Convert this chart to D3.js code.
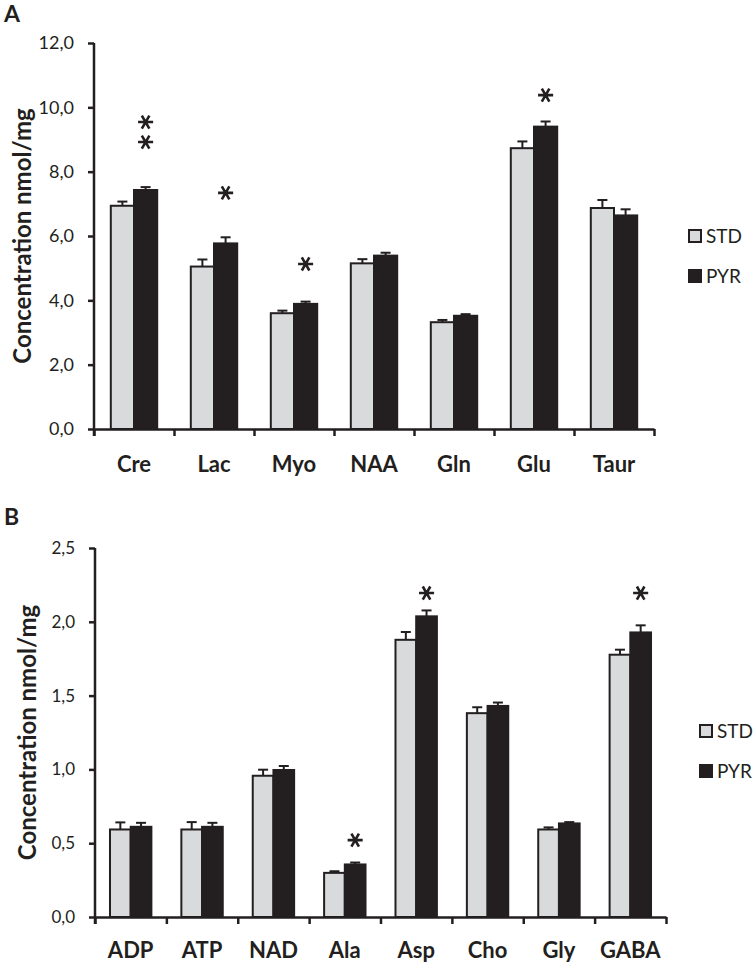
<!DOCTYPE html>
<html>
<head>
<meta charset="utf-8">
<script src="https://cdn.jsdelivr.net/npm/d3@7"></script>
<style>
  body { margin: 0; background: #fff; }
  text { font-family: Lato, "Open Sans", sans-serif; fill: #231f20; }
</style>
</head>
<body>
<script>
// Panel A – concentrations (nmol/mg)
const catsA = ["Cre", "Lac", "Myo", "NAA", "Gln", "Glu", "Taur"];
const stdA = [6.94, 5.05, 3.60, 5.15, 3.32, 8.73, 6.87];
const stdErrA = [0.13, 0.22, 0.08, 0.13, 0.07, 0.21, 0.25];
const pyrA = [7.43, 5.77, 3.89, 5.39, 3.52, 9.40, 6.64];
const pyrErrA = [0.09, 0.19, 0.07, 0.09, 0.05, 0.16, 0.19];
const starsA = [2, 1, 1, 0, 0, 1, 0];
const starLevelA = [8.92, 7.34, 5.13, null, null, 10.38, null];
const ticksA = [0, 2, 4, 6, 8, 10, 12];

// Panel B
const catsB = ["ADP", "ATP", "NAD", "Ala", "Asp", "Cho", "Gly", "GABA"];
const stdB = [0.593, 0.593, 0.957, 0.299, 1.878, 1.381, 0.593, 1.777];
const stdErrB = [0.048, 0.050, 0.041, 0.011, 0.053, 0.040, 0.014, 0.034];
const pyrB = [0.611, 0.611, 0.996, 0.356, 2.037, 1.430, 0.634, 1.928];
const pyrErrB = [0.027, 0.027, 0.027, 0.013, 0.040, 0.023, 0.009, 0.048];
const starsB = [0, 0, 0, 1, 1, 0, 0, 1];
const starLevelB = [null, null, null, 0.521, 2.195, null, null, 2.195];
const ticksB = [0, 0.5, 1, 1.5, 2, 2.5];

const groups = ["STD", "PYR"];
const ink = "#231f20";
const fills = { STD: "#d9dadc", PYR: "#231f20" };

const svg = d3.select("body").append("svg")
    .attr("width", 753)
    .attr("height", 967);

const fmt = d => d3.format(".1f")(d).replace(".", ",");
const star = d3.symbol(d3.symbolAsterisk, 160);

function drawPanel(p) {
    var g = svg.append("g");

    var x = d3.scaleBand().domain(p.cats).range([p.left, p.right]);
    var bw = x.bandwidth();
    var sub = d3.scaleBand().domain(groups).range([bw * 0.21, bw * 0.79]);
    var y = d3.scaleLinear().domain([0, p.ticks[p.ticks.length - 1]]).range([p.bottom, p.top]);
    var xi = d3.scaleLinear().domain([0, p.cats.length]).range([p.left, p.right]);

    // panel letter
    g.append("text")
        .attr("x", 4).attr("y", p.letterY)
        .attr("font-size", 23).attr("font-weight", "bold")
        .text(p.letter);

    // y axis title
    g.append("text")
        .attr("transform", "translate(" + p.titleX + "," + ((p.top + p.bottom) / 2) + ") rotate(-90)")
        .attr("text-anchor", "middle")
        .attr("font-size", 24).attr("font-weight", "bold")
        .text("Concentration nmol/mg");

    var rows = p.cats.map((c, i) => ({
        cat: c,
        vals: [
            { key: "STD", v: p.std[i], e: p.stdErr[i] },
            { key: "PYR", v: p.pyr[i], e: p.pyrErr[i] }
        ]
    }));

    var cat = g.selectAll(".cat")
        .data(rows)
        .enter().append("g")
        .attr("class", "cat")
        .attr("transform", d => "translate(" + x(d.cat) + ",0)");

    // error bars (drawn first so the bar outline covers the base)
    var eb = cat.selectAll(".err")
        .data(d => d.vals)
        .enter().append("g").attr("class", "err")
        .attr("stroke", ink).attr("stroke-width", 2);
    eb.append("line")
        .attr("x1", d => sub(d.key) + sub.bandwidth() / 2)
        .attr("x2", d => sub(d.key) + sub.bandwidth() / 2)
        .attr("y1", d => y(d.v)).attr("y2", d => y(d.v + d.e));
    eb.append("line")
        .attr("x1", d => sub(d.key) + sub.bandwidth() / 2 - 5)
        .attr("x2", d => sub(d.key) + sub.bandwidth() / 2 + 5)
        .attr("y1", d => y(d.v + d.e)).attr("y2", d => y(d.v + d.e));

    cat.selectAll(".bar")
        .data(d => d.vals)
        .enter().append("rect")
        .attr("class", "bar")
        .attr("x", d => sub(d.key))
        .attr("width", sub.bandwidth())
        .attr("y", d => y(d.v))
        .attr("height", d => y(0) - y(d.v))
        .attr("fill", d => fills[d.key])
        .attr("stroke", ink).attr("stroke-width", 2);

    // significance stars above the PYR bar
    p.cats.forEach((c, i) => {
        var cx = x(c) + sub("PYR") + sub.bandwidth() / 2;
        for (var k = 0; k < p.stars[i]; k++) {
            g.append("path")
                .attr("d", star())
                .attr("transform", "translate(" + cx + "," + (y(p.starLevel[i]) - k * 20) + ") rotate(90)")
                .attr("fill", "none")
                .attr("stroke", ink)
                .attr("stroke-width", 2.6);
        }
    });

    // y axis
    var yAxis = g.append("g")
        .attr("transform", "translate(" + p.left + ",0)")
        .call(d3.axisLeft(y).tickValues(p.ticks).tickSize(6).tickSizeOuter(0).tickPadding(14).tickFormat(fmt));
    yAxis.selectAll("text").attr("font-size", p.tickFont).attr("font-family", null).attr("fill", ink);

    // x axis: ticks at band boundaries
    var xAxis = g.append("g")
        .attr("transform", "translate(0," + p.bottom + ")")
        .call(d3.axisBottom(xi).tickValues(d3.range(p.cats.length + 1)).tickSize(7).tickSizeOuter(0).tickFormat(""));

    [yAxis, xAxis].forEach(a => {
        a.select(".domain").attr("stroke", ink).attr("stroke-width", 2.5);
        a.selectAll(".tick line").attr("stroke", ink).attr("stroke-width", 2.5);
    });
    yAxis.select(".domain").attr("d", "M0," + (p.top) + "V" + (p.bottom + 7));

    // category labels
    g.selectAll(".lab")
        .data(p.cats)
        .enter().append("text")
        .attr("x", d => x(d) + bw / 2)
        .attr("y", p.bottom + p.labelGap)
        .attr("text-anchor", "middle")
        .attr("font-size", 22).attr("font-weight", "bold")
        .text(d => d);

    // legend
    var leg = g.selectAll(".leg")
        .data(groups)
        .enter().append("g")
        .attr("transform", (d, i) => "translate(" + p.legX + "," + (p.legY + i * 40) + ")");
    leg.append("rect")
        .attr("width", 12).attr("height", 12)
        .attr("fill", d => fills[d])
        .attr("stroke", ink).attr("stroke-width", 2);
    leg.append("text")
        .attr("x", 17).attr("y", 13)
        .attr("font-size", 19)
        .text(d => d);
}

drawPanel({
    letter: "A", letterY: 22, titleX: 31,
    cats: catsA, std: stdA, stdErr: stdErrA, pyr: pyrA, pyrErr: pyrErrA,
    stars: starsA, starLevel: starLevelA, ticks: ticksA,
    left: 94, right: 654, top: 43, bottom: 429,
    tickFont: 18, labelGap: 43, legX: 689, legY: 230
});

drawPanel({
    letter: "B", letterY: 525, titleX: 36,
    cats: catsB, std: stdB, stdErr: stdErrB, pyr: pyrB, pyrErr: pyrErrB,
    stars: starsB, starLevel: starLevelB, ticks: ticksB,
    left: 95, right: 666, top: 548, bottom: 917,
    tickFont: 17, labelGap: 41, legX: 700, legY: 725
});
</script>
</body>
</html>
